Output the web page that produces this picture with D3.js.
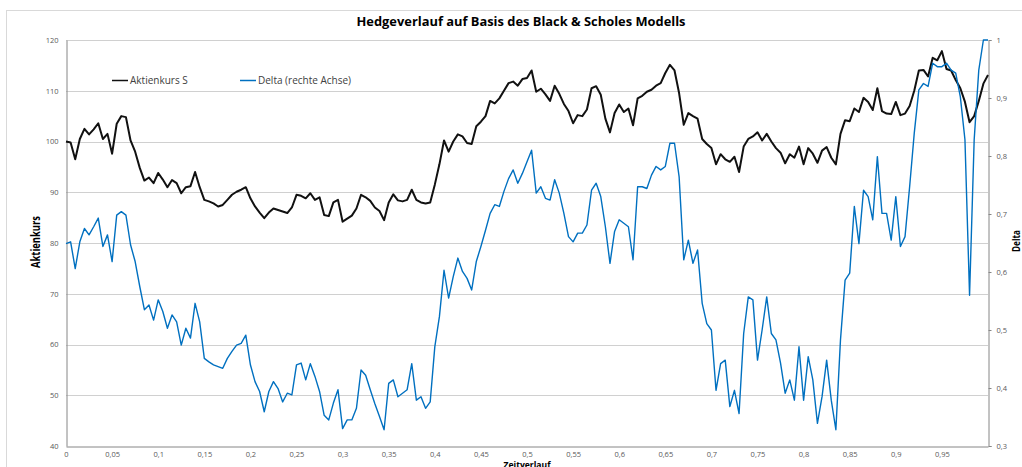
<!DOCTYPE html>
<html>
<head>
<meta charset="utf-8">
<script src="https://cdn.jsdelivr.net/npm/d3@7"></script>
<style>
    html, body { margin: 0; padding: 0; background: #fff; }
    #chart { width: 1022px; height: 467px; overflow: hidden; }
    text { font-family: "Open Sans", "Liberation Sans", sans-serif; }
</style>
</head>
<body>
<div id="chart"></div>
<script>

// Zeitachse: ein Wert je 0,005
var schritt = 0.005;

var aktienkurs = [
    100.0, 99.8, 96.5, 100.5, 102.5, 101.4, 102.4, 103.6, 100.5, 101.5,
    97.6, 103.5, 105.0, 104.8, 100.2, 98.0, 94.8, 92.3, 92.9, 91.8,
    93.8, 92.5, 91.0, 92.4, 91.8, 89.8, 91.0, 91.2, 94.0, 91.0,
    88.5, 88.2, 87.8, 87.2, 87.5, 88.5, 89.5, 90.1, 90.5, 91.0,
    88.8, 87.2, 86.0, 84.9, 86.0, 86.8, 86.5, 86.2, 85.9, 87.0,
    89.5, 89.3, 88.8, 89.8, 88.5, 89.0, 85.5, 85.3, 88.0, 88.5,
    84.2, 84.8, 85.4, 86.8, 89.5, 89.0, 88.3, 87.0, 86.3, 84.5,
    88.0, 89.6, 88.4, 88.2, 88.5, 90.5, 88.5, 88.0, 87.8, 88.0,
    91.5, 95.5, 100.2, 98.0, 100.0, 101.4, 101.0, 99.7, 99.5, 103.0,
    103.9, 105.0, 108.0, 107.5, 108.5, 110.0, 111.5, 111.8, 111.0, 112.3,
    112.5, 114.0, 109.8, 110.4, 109.3, 108.0, 111.0, 109.4, 107.4, 106.0,
    103.6, 105.2, 105.0, 106.3, 110.5, 110.9, 109.2, 104.5, 101.8, 105.6,
    107.3, 105.8, 106.5, 103.2, 108.5, 109.0, 109.8, 110.2, 111.0, 111.5,
    113.5, 115.1, 114.0, 109.5, 103.3, 105.6, 105.0, 104.5, 100.5, 99.5,
    98.7, 95.5, 97.5, 96.5, 96.0, 97.0, 94.0, 99.0, 100.5, 101.0,
    101.8, 100.2, 101.5, 100.0, 98.7, 97.8, 95.7, 97.5, 96.8, 99.0,
    95.5, 98.7, 97.6, 95.8, 98.2, 98.9, 96.8, 95.5, 101.5, 104.2,
    104.0, 106.5, 105.8, 108.6, 107.8, 106.2, 110.5, 106.0, 105.5, 105.4,
    107.8, 105.2, 105.5, 107.0, 110.0, 114.0, 114.1, 112.8, 116.5, 116.0,
    117.8, 114.3, 114.0, 112.1, 110.5, 107.8, 103.8, 105.0, 108.0, 111.4,
    113.1
];

var delta = [
    0.649, 0.652, 0.606, 0.652, 0.675, 0.664, 0.678, 0.693, 0.644, 0.664,
    0.618, 0.698, 0.704, 0.698, 0.647, 0.618, 0.575, 0.535, 0.543, 0.517,
    0.552, 0.532, 0.503, 0.526, 0.514, 0.474, 0.503, 0.486, 0.546, 0.514,
    0.451, 0.445, 0.440, 0.437, 0.434, 0.451, 0.463, 0.474, 0.477, 0.491,
    0.440, 0.411, 0.394, 0.359, 0.394, 0.411, 0.399, 0.376, 0.391, 0.388,
    0.440, 0.443, 0.414, 0.442, 0.420, 0.394, 0.353, 0.345, 0.374, 0.397,
    0.330, 0.345, 0.345, 0.365, 0.431, 0.422, 0.397, 0.373, 0.351, 0.328,
    0.408, 0.414, 0.385, 0.391, 0.397, 0.442, 0.379, 0.385, 0.365, 0.376,
    0.471, 0.523, 0.603, 0.555, 0.592, 0.624, 0.601, 0.589, 0.569, 0.618,
    0.644, 0.672, 0.701, 0.716, 0.713, 0.739, 0.761, 0.776, 0.753, 0.770,
    0.790, 0.810, 0.736, 0.747, 0.727, 0.724, 0.759, 0.736, 0.701, 0.661,
    0.652, 0.667, 0.667, 0.681, 0.741, 0.753, 0.730, 0.678, 0.615, 0.670,
    0.690, 0.684, 0.678, 0.621, 0.747, 0.747, 0.744, 0.767, 0.782, 0.776,
    0.782, 0.822, 0.822, 0.764, 0.621, 0.655, 0.615, 0.638, 0.546, 0.511,
    0.500, 0.396, 0.442, 0.448, 0.368, 0.396, 0.356, 0.494, 0.557, 0.552,
    0.448, 0.500, 0.557, 0.494, 0.483, 0.443, 0.391, 0.414, 0.379, 0.471,
    0.379, 0.454, 0.414, 0.339, 0.385, 0.448, 0.379, 0.328, 0.483, 0.586,
    0.598, 0.713, 0.649, 0.741, 0.730, 0.690, 0.799, 0.701, 0.701, 0.655,
    0.730, 0.644, 0.661, 0.747, 0.839, 0.914, 0.925, 0.920, 0.960, 0.954,
    0.954, 0.960, 0.948, 0.943, 0.902, 0.828, 0.560, 0.828, 0.948, 1.000,
    1.000
];

var xTicks = [0, 0.05, 0.1, 0.15, 0.2, 0.25, 0.3, 0.35, 0.4, 0.45,
              0.5, 0.55, 0.6, 0.65, 0.7, 0.75, 0.8, 0.85, 0.9, 0.95];
var yLinksTicks = [40, 50, 60, 70, 80, 90, 100, 110, 120];
var yRechtsTicks = [0.3, 0.4, 0.5, 0.6, 0.7, 0.8, 0.9, 1];

var titel = "Hedgeverlauf auf Basis des Black & Scholes Modells";
var legende = ["Aktienkurs S", "Delta (rechte Achse)"];

var dim = { "w": 1022, "h": 467 };
var plot = { "left": 66, "right": 988, "top": 40, "bottom": 446 };

var komma = function(v) { return String(v).replace(".", ","); };

var svg = d3.select("#chart").append("svg")
        .attr("width", dim.w)
        .attr("height", dim.h);

// Diagrammrahmen (laeuft rechts und unten aus dem Bild)
svg.append("rect")
    .attr("x", 6.5)
    .attr("y", 10.5)
    .attr("width", 1040)
    .attr("height", 480)
    .attr("fill", "#fff")
    .attr("stroke", "#d9d9d9");

var x = d3.scaleLinear().domain([0, 1]).range([plot.left, plot.right]);
var yL = d3.scaleLinear().domain([40, 120]).range([plot.bottom, plot.top]);
var yR = d3.scaleLinear().domain([0.3, 1]).range([plot.bottom, plot.top]);

// Gitternetz
svg.append("g")
    .attr("class", "grid")
    .selectAll("line")
    .data(yLinksTicks.slice(1))
    .enter()
    .append("line")
    .attr("x1", plot.left)
    .attr("x2", plot.right)
    .attr("y1", function(d) { return Math.round(yL(d)) + 0.5; })
    .attr("y2", function(d) { return Math.round(yL(d)) + 0.5; })
    .attr("stroke", "#d0d0d0")
    .attr("stroke-width", 1);

// Achsen
var axL = svg.append("g")
    .attr("transform", "translate(" + (plot.left + 0.5) + ",0)")
    .call(d3.axisLeft(yL).tickValues(yLinksTicks).tickSize(0).tickPadding(8));

var axR = svg.append("g")
    .attr("transform", "translate(" + (plot.right + 0.5) + ",0)")
    .call(d3.axisRight(yR).tickValues(yRechtsTicks).tickSize(3).tickPadding(5)
        .tickFormat(komma));

var axB = svg.append("g")
    .attr("transform", "translate(0," + (plot.bottom + 0.5) + ")")
    .call(d3.axisBottom(x).tickValues(xTicks).tickSize(0).tickPadding(5)
        .tickFormat(komma));

[axL, axR, axB].forEach(function(a) {
    a.select(".domain").attr("stroke", "#868686");
    a.selectAll(".tick line").attr("stroke", "#868686");
    a.selectAll("text")
        .attr("fill", "#595959")
        .style("font-size", "7.5px")
        .style("font-family", "'Open Sans', sans-serif");
});

// Linien
var linieS = d3.line()
    .x(function(d, i) { return x(i * schritt); })
    .y(function(d) { return yL(d); });

var linieD = d3.line()
    .x(function(d, i) { return x(i * schritt); })
    .y(function(d) { return yR(d); });

svg.append("path")
    .datum(aktienkurs)
    .attr("d", linieS)
    .attr("fill", "none")
    .attr("stroke", "#111")
    .attr("stroke-width", 2)
    .attr("stroke-linejoin", "round");

svg.append("path")
    .datum(delta)
    .attr("d", linieD)
    .attr("fill", "none")
    .attr("stroke", "#0070c0")
    .attr("stroke-width", 1.4)
    .attr("stroke-linejoin", "round");

// Titel
svg.append("text")
    .attr("x", 521)
    .attr("y", 26)
    .attr("text-anchor", "middle")
    .attr("textLength", 329)
    .attr("lengthAdjust", "spacingAndGlyphs")
    .style("font-size", "12.5px")
    .style("font-weight", "bold")
    .attr("fill", "#000")
    .text(titel);

// Achsentitel
svg.append("text")
    .attr("transform", "translate(40,242) rotate(-90)")
    .attr("text-anchor", "middle")
    .attr("textLength", 52)
    .attr("lengthAdjust", "spacingAndGlyphs")
    .style("font-size", "13px")
    .style("font-weight", "bold")
    .text("Aktienkurs");

svg.append("text")
    .attr("transform", "translate(1020,241) rotate(-90)")
    .attr("text-anchor", "middle")
    .attr("textLength", 22)
    .attr("lengthAdjust", "spacingAndGlyphs")
    .style("font-size", "11px")
    .style("font-weight", "bold")
    .text("Delta");

svg.append("text")
    .attr("x", 527)
    .attr("y", 468)
    .attr("text-anchor", "middle")
    .attr("textLength", 47)
    .attr("lengthAdjust", "spacingAndGlyphs")
    .style("font-size", "9.5px")
    .style("font-weight", "bold")
    .text("Zeitverlauf");

// Legende
var leg = svg.append("g").attr("class", "legend");
var legX = [112, 240];
var legFarbe = ["#111", "#0070c0"];

legende.forEach(function(name, i) {
    leg.append("line")
        .attr("x1", legX[i])
        .attr("x2", legX[i] + 16)
        .attr("y1", 80.5)
        .attr("y2", 80.5)
        .attr("stroke", legFarbe[i])
        .attr("stroke-width", 1.5);
    leg.append("text")
        .attr("x", legX[i] + 18)
        .attr("y", 84)
        .attr("fill", "#404040")
        .style("font-size", "10px")
        .text(name);
});

</script>
</body>
</html>
